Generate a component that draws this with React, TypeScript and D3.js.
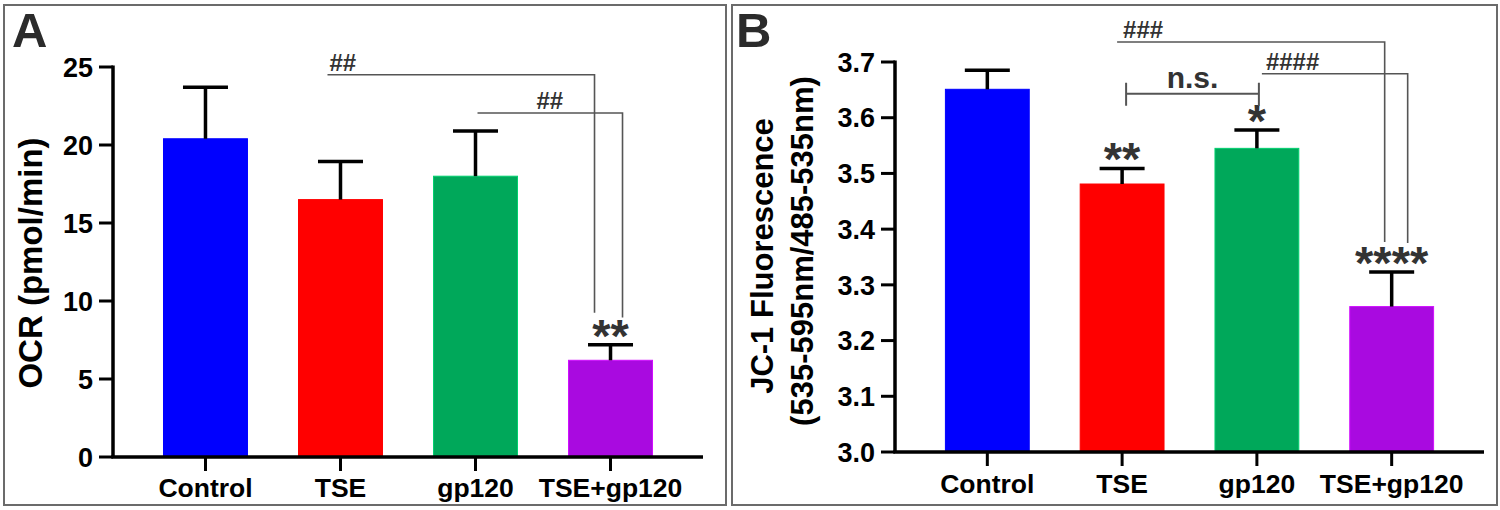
import React, { useEffect, useRef } from 'react';
import * as d3 from 'd3';

// groups shared by both panels
const groups = ['Control', 'TSE', 'gp120', 'TSE+gp120'];
const barColors = ['#0000ff', '#ff0000', '#00a85a', '#a90ae0'];

// panel A: OCR (pmol/min), mean and SEM
const ocrMean = [20.4, 16.5, 18.0, 6.2];
const ocrSem = [3.3, 2.45, 2.9, 1.0];
const ocrTicks = [0, 5, 10, 15, 20, 25];
const ocrStars = ['', '', '', '**'];

// panel B: JC-1 fluorescence ratio, mean and SEM
const jcMean = [3.651, 3.481, 3.545, 3.261];
const jcSem = [0.034, 0.028, 0.033, 0.062];
const jcTicks = [3.0, 3.1, 3.2, 3.3, 3.4, 3.5, 3.6, 3.7];
const jcStars = ['', '**', '*', '****'];

// comparison brackets: level = height of the horizontal line, drop = where the right leg ends
const ocrBrackets = [
  { from: 'TSE', to: 'TSE+gp120', level: 24.5, drop: 9.25, label: '##', dxFrom: -13, dxTo: -16, labelDx: 2 },
  { from: 'gp120', to: 'TSE+gp120', level: 22.05, drop: 8.95, label: '##', dxFrom: 2, dxTo: 12, labelDx: 59 },
];
const jcBrackets = [
  { from: 'TSE', to: 'TSE+gp120', level: 3.736, drop: 3.377, label: '###', dxFrom: -5, dxTo: -7, labelDx: 6 },
  { from: 'gp120', to: 'TSE+gp120', level: 3.679, drop: 3.375, label: '####', dxFrom: 5, dxTo: 16, labelDx: 4 },
];
const jcNs = { from: 'TSE', to: 'gp120', level: 3.643, label: 'n.s.', dxFrom: 4, dxTo: 2 };

const FONT = '"Liberation Sans", Arial, Helvetica, sans-serif';

const App = () => {
  const svgRef = useRef<SVGSVGElement>(null);

  useEffect(() => {
    const svg = d3.select(svgRef.current);
    svg.selectAll('*').remove();

    // panel frames
    svg.append('rect').attr('x', 4).attr('y', 5).attr('width', 722).attr('height', 500)
      .attr('fill', 'none').attr('stroke', '#6b6b6b').attr('stroke-width', 2);
    svg.append('rect').attr('x', 732).attr('y', 5).attr('width', 765).attr('height', 500)
      .attr('fill', 'none').attr('stroke', '#6b6b6b').attr('stroke-width', 2);

    const drawPanel = (opts) => {
      const { letter, letterX, left, right, yRange, domain, ticks, fmt, mean, sem, stars,
        titleLines, titleX, titleY, labelY, brackets } = opts;
      const g = svg.append('g');

      const x = d3.scaleBand().domain(groups).range([left, right])
        .paddingInner(0.378).paddingOuter(0.374);
      const y = d3.scaleLinear().domain(domain).range(yRange);
      const cx = (k) => x(k) + x.bandwidth() / 2;

      g.append('text').attr('x', letterX).attr('y', 47).text(letter)
        .attr('font-family', FONT).attr('font-weight', 'bold').attr('font-size', 49).attr('fill', '#2b2b2b');

      // bars
      g.selectAll('rect.bar').data(groups).enter().append('rect')
        .attr('class', 'bar')
        .attr('x', (d) => x(d))
        .attr('width', x.bandwidth())
        .attr('y', (d, i) => y(mean[i]))
        .attr('height', (d, i) => y(domain[0]) - y(mean[i]))
        .attr('fill', (d, i) => barColors[i])
        .attr('stroke', (d, i) => d3.color(barColors[i]).brighter(0.6).formatHex())
        .attr('stroke-width', 1);

      // error bars (upper only)
      groups.forEach((d, i) => {
        const top = y(mean[i] + sem[i]);
        g.append('line').attr('x1', cx(d)).attr('x2', cx(d)).attr('y1', y(mean[i])).attr('y2', top)
          .attr('stroke', '#000').attr('stroke-width', 3.5);
        g.append('line').attr('x1', cx(d) - 22.5).attr('x2', cx(d) + 22.5).attr('y1', top).attr('y2', top)
          .attr('stroke', '#000').attr('stroke-width', 3.5);
        if (stars[i]) {
          g.append('text').attr('x', cx(d)).attr('y', top + 7).attr('text-anchor', 'middle')
            .text(stars[i]).attr('font-family', FONT).attr('font-weight', 'bold')
            .attr('font-size', 47).attr('fill', '#333');
        }
      });

      // axes
      const y0 = y(domain[0]);
      const axisG = g.append('g');
      axisG.append('line').attr('x1', left).attr('x2', left).attr('y1', y0).attr('y2', y(domain[1]) - 1.5)
        .attr('stroke', '#000').attr('stroke-width', 3.5);
      axisG.append('line').attr('x1', left - 1.75).attr('x2', right).attr('y1', y0).attr('y2', y0)
        .attr('stroke', '#000').attr('stroke-width', 3.5);
      ticks.forEach((t) => {
        axisG.append('line').attr('x1', left - 14).attr('x2', left).attr('y1', y(t)).attr('y2', y(t))
          .attr('stroke', '#000').attr('stroke-width', 3);
        axisG.append('text').attr('x', left - 20).attr('y', y(t)).attr('dy', '0.36em')
          .attr('text-anchor', 'end').text(fmt(t))
          .attr('font-family', FONT).attr('font-weight', 'bold').attr('font-size', 27).attr('fill', '#000');
      });
      groups.forEach((d) => {
        axisG.append('line').attr('x1', cx(d)).attr('x2', cx(d)).attr('y1', y0).attr('y2', y0 + 14)
          .attr('stroke', '#000').attr('stroke-width', 3);
        axisG.append('text').attr('x', cx(d)).attr('y', labelY).attr('text-anchor', 'middle').text(d)
          .attr('font-family', FONT).attr('font-weight', 'bold').attr('font-size', 26.5).attr('fill', '#000');
      });

      // y title
      titleLines.forEach((line, k) => {
        g.append('text').attr('transform', `translate(${titleX[k]},${titleY[k]}) rotate(-90)`)
          .attr('text-anchor', 'middle').text(line)
          .attr('font-family', FONT).attr('font-weight', 'bold').attr('font-size', opts.titleSize).attr('fill', '#000');
      });

      // significance brackets
      brackets.forEach((b) => {
        const x1 = cx(b.from) + b.dxFrom;
        const x2 = cx(b.to) + b.dxTo;
        g.append('path')
          .attr('d', `M${x1},${y(b.level)}H${x2}V${y(b.drop)}`)
          .attr('fill', 'none').attr('stroke', '#555').attr('stroke-width', 1.6);
        g.append('text').attr('x', x1 + b.labelDx).attr('y', y(b.level) - 4).text(b.label)
          .attr('font-family', FONT).attr('font-weight', 'bold').attr('font-size', 24).attr('fill', '#333');
      });

      return { g, x, y, cx };
    };

    drawPanel({
      letter: 'A', letterX: 12, left: 113, right: 703, yRange: [457, 67], domain: [0, 25],
      ticks: ocrTicks, fmt: d3.format('d'), mean: ocrMean, sem: ocrSem, stars: ocrStars,
      titleLines: ['OCR (pmol/min)'], titleX: [42], titleY: [263], titleSize: 33,
      labelY: 497, brackets: ocrBrackets,
    });

    const pB = drawPanel({
      letter: 'B', letterX: 736, left: 895, right: 1484, yRange: [452, 62], domain: [3.0, 3.7],
      ticks: jcTicks, fmt: d3.format('.1f'), mean: jcMean, sem: jcSem, stars: jcStars,
      titleLines: ['JC-1 Fluorescence', '(535-595nm/485-535nm)'], titleX: [773, 813], titleY: [256, 251],
      titleSize: 31, labelY: 493, brackets: jcBrackets,
    });

    // n.s. bracket with end ticks
    const nx1 = pB.cx(jcNs.from) + jcNs.dxFrom;
    const nx2 = pB.cx(jcNs.to) + jcNs.dxTo;
    const ny = pB.y(jcNs.level);
    pB.g.append('path')
      .attr('d', `M${nx1},${ny - 11}V${ny + 12}M${nx1},${ny}H${nx2}M${nx2},${ny - 11}V${ny + 12}`)
      .attr('fill', 'none').attr('stroke', '#555').attr('stroke-width', 2);
    pB.g.append('text').attr('x', (nx1 + nx2) / 2).attr('y', ny - 6).attr('text-anchor', 'middle')
      .text(jcNs.label).attr('font-family', FONT).attr('font-weight', 'bold').attr('font-size', 30).attr('fill', '#333');
  }, []);

  return (
    <svg ref={svgRef} width={1500} height={510}
      style={{ position: 'absolute', left: 0, top: 0, background: '#fff' }} />
  );
};

export default App;
